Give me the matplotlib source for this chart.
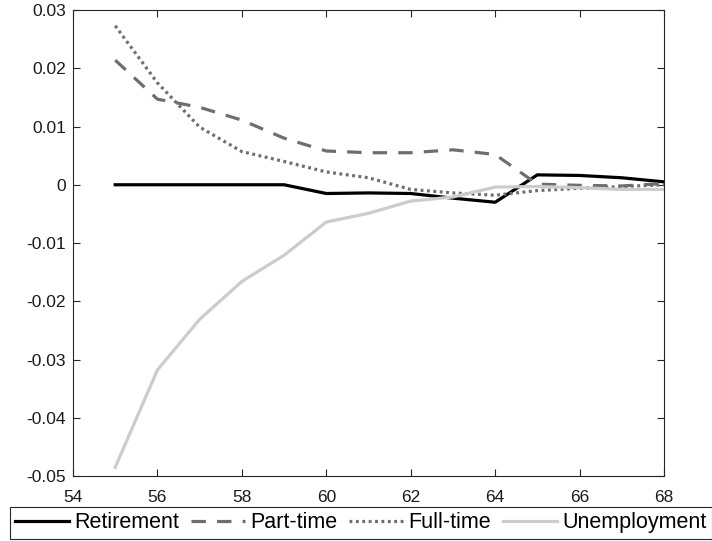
import numpy as np
import matplotlib.pyplot as plt

plt.rcParams['font.family'] = ['Liberation Sans', 'DejaVu Sans']

# age on the x axis
age = [55, 56, 57, 58, 59, 60, 61, 62, 63, 64, 65, 66, 67, 68]

# change in the share of each labour state
retirement = [0.0, 0.0, 0.0, 0.0, 0.0, -0.0015, -0.0014, -0.0015, -0.0023, -0.0030,
              0.0017, 0.0016, 0.0012, 0.0005]
part_time = [0.0214, 0.0147, 0.0133, 0.0111, 0.0080, 0.0058, 0.0055, 0.0055, 0.0060, 0.0052,
             0.0001, -0.0001, -0.0002, 0.0002]
full_time = [0.0273, 0.0175, 0.0099, 0.0057, 0.0040, 0.0022, 0.0012, -0.0008, -0.0014, -0.0018,
             -0.0010, -0.0006, -0.0003, 0.0000]
unemployment = [-0.0485, -0.0318, -0.0231, -0.0166, -0.0121, -0.0064, -0.0049, -0.0028, -0.0021, -0.0004,
                -0.0003, -0.0005, -0.0008, -0.0008]

labels = ['Retirement', 'Part-time', 'Full-time', 'Unemployment']

fig = plt.figure(figsize=(7.12, 5.41), dpi=100)
ax = fig.add_axes([0.1025, 0.1201, 0.8301, 0.8614])

lw = 2.3
ax.plot(age, retirement, color='black', lw=lw, label=labels[0])
ax.plot(age, part_time, color='#6e6e6e', lw=lw, linestyle=(0, (4.5, 3.5)), label=labels[1])
ax.plot(age, full_time, color='#6e6e6e', lw=lw, linestyle=(0, (0.9, 1.1)), label=labels[2])
ax.plot(age, unemployment, color='#cccccc', lw=lw, label=labels[3])

ax.set_xlim(54, 68)
ax.set_ylim(-0.05, 0.03)
ax.set_xticks(np.arange(54, 69, 2))
ax.set_yticks(np.arange(-0.05, 0.031, 0.01))
ax.set_yticklabels(['-0.05', '-0.04', '-0.03', '-0.02', '-0.01', '0', '0.01', '0.02', '0.03'])

ax.tick_params(direction='in', top=True, right=True, length=5, width=0.8,
               labelsize=12.5, colors='#262626', labelcolor='#1a1a1a')
ax.tick_params(axis='x', pad=10)
ax.tick_params(axis='y', pad=5)
for s in ax.spines.values():
    s.set_color('#262626')
    s.set_linewidth(0.8)

leg = fig.legend(loc='upper left', bbox_to_anchor=(10 / 712, 1 - 507 / 541),
                 ncol=4, fontsize=15.5, frameon=True, fancybox=False,
                 edgecolor='#262626', framealpha=1, handlelength=2.5,
                 handletextpad=0.25, columnspacing=0.55, borderpad=0.25,
                 borderaxespad=0)
leg.get_frame().set_linewidth(0.8)

fig.savefig('out.png', dpi=100)
